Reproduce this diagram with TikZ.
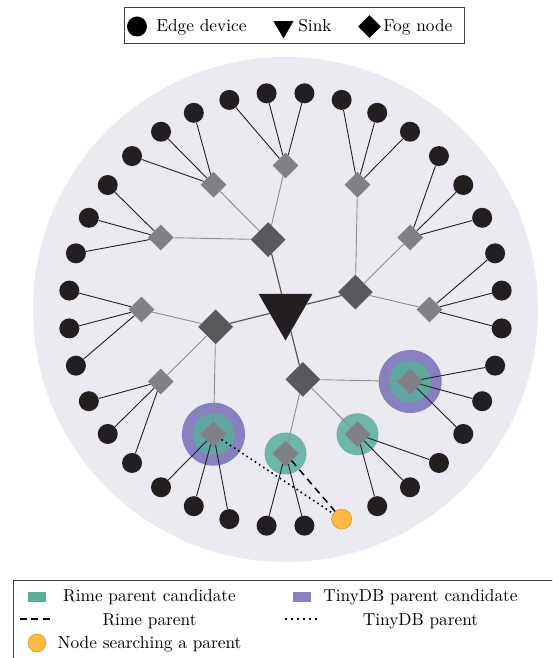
\documentclass[tikz,border=0pt]{standalone}
\usepackage{fontspec}
\usetikzlibrary{shapes.geometric}
\definecolor{bgc}{HTML}{ECEAF1}
\definecolor{devc}{HTML}{231F20}
\definecolor{hubc}{HTML}{58595B}
\definecolor{fogc}{HTML}{808184}
\definecolor{linkc}{HTML}{8E8E8E}
\definecolor{rimec}{HTML}{5BAD9C}
\definecolor{tinyc}{HTML}{8781BF}
\definecolor{srchc}{HTML}{FDB940}
\tikzset{
  dev/.style={circle, fill=devc, inner sep=0pt, minimum size=20pt},
  fog/.style={diamond, fill=fogc, inner sep=0pt, minimum size=26pt},
  hub/.style={diamond, fill=hubc, inner sep=0pt, minimum size=35pt},
  sink/.style={regular polygon, regular polygon sides=3, shape border rotate=180, fill=devc, inner sep=0pt, minimum size=62pt},
  srch/.style={circle, fill=srchc, draw=srchc!80!black, line width=0.5pt, inner sep=0pt, minimum size=20pt},
  rimering/.style={circle, fill=rimec, fill opacity=0.85, inner sep=0pt, minimum size=42pt},
  tinyring/.style={circle, fill=tinyc, inner sep=0pt, minimum size=63pt},
  devlink/.style={devc, line width=0.9pt},
  foglink/.style={linkc, line width=0.9pt},
  hublink/.style={hubc, line width=1.2pt},
  rimepar/.style={black, line width=1.5pt, dash pattern=on 7pt off 5pt},
  tinypar/.style={black, line width=1.6pt, dash pattern=on 1.6pt off 3.4pt},
  txt/.style={inner sep=0pt, scale=1.73},
  keybox/.style={draw=black!75, line width=0.8pt, inner sep=0pt},
}

\begin{document}
\begin{tikzpicture}[x=1pt, y=1pt]
  \clip (-285.5,-348.5) rectangle (266.5,309.5);
  \fill[bgc] (0,0) circle (252.5);
  % parent candidates
  \foreach \a in {240,330} \node[tinyring] at (\a:144) {};
  \foreach \a in {240,270,300,330} \node[rimering] at (\a:144) {};
  % sink, fog nodes, edge devices
  \node[sink] (sink) at (0,0) {};
  \foreach \i in {0,...,3} \node[hub] (hub\i) at ({14+90*\i}:72) {};
  \foreach \j in {0,...,11} \node[fog] (fog\j) at ({30*\j}:144) {};
  \foreach \m in {0,...,35}{
    \ifnum\m=28 \node[srch] (srch) at ({10*\m+5}:217) {};
    \else \node[dev] (dev\m) at ({10*\m+5}:217) {};
    \fi
  }
  \foreach \i in {0,...,3}{
    \draw[hublink] (sink) -- (hub\i);
    \foreach \k in {0,1,2}{
      \pgfmathtruncatemacro\j{3*\i+\k}
      \draw[foglink] (hub\i) -- (fog\j);
    }
  }
  \foreach \j in {0,...,11}{\foreach \o in {-1,0,1}{
    \pgfmathtruncatemacro\m{mod(3*\j+\o+36,36)}
    \ifnum\m=28 \else \draw[devlink] (fog\j) -- (dev\m); \fi
  }}
  \draw[rimepar] (fog9) -- (srch);
  \draw[tinypar] (fog8) -- (srch);
  % top key
  \node[keybox, minimum width=340pt, minimum height=36pt] (keytop) at (8.5,284.5) {};
  \node[dev, fill=black] (kdev) at (-148.5,283) {};
  \node[txt, anchor=base west] (kdevt) at (-129.5,277.5) {Edge device};
  \node[sink, fill=black, minimum size=23pt] (ksink) at (-2,282.5) {};
  \node[txt, anchor=base west] (ksinkt) at (12.5,277.5) {Sink};
  \node[fog, fill=black, minimum size=23pt] (kfog) at (84,283) {};
  \node[txt, anchor=base west] (kfogt) at (97.5,277.5) {Fog node};
  % bottom key
  \node[keybox, anchor=north west, minimum width=600pt, minimum height=100pt] (keybot) at (-272.5,-270.5) {};
  \node[fill=rimec, minimum width=18pt, minimum height=10pt, inner sep=0pt] (krime) at (-248.5,-287.5) {};
  \node[txt, anchor=base] (krimet) at (-136,-291.5) {Rime parent candidate};
  \node[fill=tinyc, minimum width=18pt, minimum height=10pt, inner sep=0pt] (ktiny) at (16.5,-287.5) {};
  \node[txt, anchor=base] (ktinyt) at (135,-291.5) {TinyDB parent candidate};
  \draw[rimepar, line width=2.5pt, dash pattern=on 7pt off 4.5pt] (-265.5,-309.5) -- (-235.5,-309.5);
  \node[txt, anchor=base] (krpt) at (-136,-315.5) {Rime parent};
  \draw[tinypar, line width=2pt, dash pattern=on 2pt off 4pt] (-0.5,-309.5) -- (34.5,-309.5);
  \node[txt, anchor=base] (ktpt) at (135,-315.5) {TinyDB parent};
  \node[srch, minimum size=18pt] (ksrch) at (-248.5,-333.5) {};
  \node[txt, anchor=base] (ksrcht) at (-136,-338.5) {Node searching a parent};
\end{tikzpicture}
\end{document}
